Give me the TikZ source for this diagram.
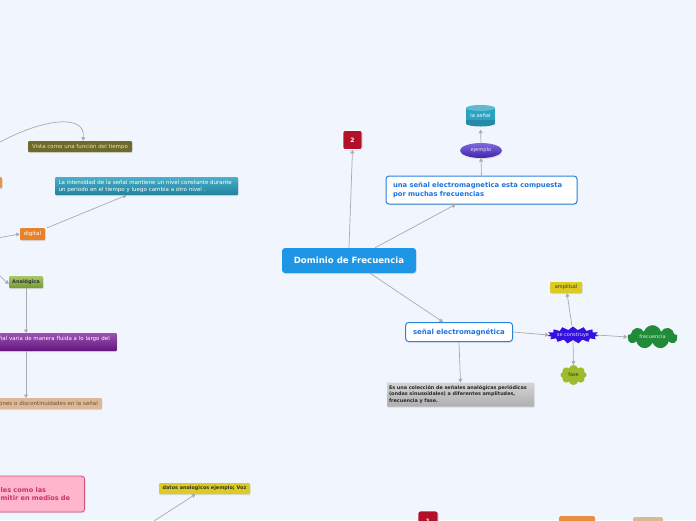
\documentclass[tikz,border=0pt]{standalone}
\usepackage{fontspec}
\setmainfont{DejaVu Sans}
\usetikzlibrary{shapes.symbols,shapes.geometric,arrows.meta,shadows}
\hyphenpenalty=10000
\exhyphenpenalty=10000
\definecolor{bg}{HTML}{F1F5FE}
\definecolor{linec}{HTML}{ABABAB}
\definecolor{centralc}{HTML}{1E96E6}
\definecolor{redc}{HTML}{B3102A}
\definecolor{bluebd}{HTML}{2A84DE}
\definecolor{bluetx}{HTML}{1A73E0}
\definecolor{purpc}{HTML}{4A2ACB}
\definecolor{tealc}{HTML}{2AA2C2}
\definecolor{starc}{HTML}{3510E0}
\definecolor{yellowc}{HTML}{DCCB22}
\definecolor{greenc}{HTML}{228B3A}
\definecolor{fasec}{HTML}{9DBB2A}
\definecolor{olivec}{HTML}{6E6A2A}
\definecolor{olivetx}{HTML}{E8E4B0}
\definecolor{orangec}{HTML}{E8822A}
\definecolor{anac}{HTML}{8CB43A}
\definecolor{violc}{HTML}{7A1A9A}
\definecolor{tanc}{HTML}{DDB898}
\definecolor{tantx}{HTML}{6B5030}
\definecolor{pinkc}{HTML}{FFB5CC}
\definecolor{pinkbd}{HTML}{D0557A}
\definecolor{pinktx}{HTML}{C8346A}
\definecolor{grayc}{HTML}{B8B8B8}
\tikzset{
  box/.style={rectangle, rounded corners=2pt, inner sep=0pt, align=center,
    font=\fontsize{5.5}{6.8}\selectfont},
  shd/.style={drop shadow={opacity=0.22,shadow xshift=0.5pt,shadow yshift=-1pt}},
  conn/.style={draw=linec, line width=0.7pt, -{Triangle[width=4pt,length=3.5pt]}},
}
\begin{document}
\begin{tikzpicture}[x=1pt,y=-1pt]
\useasboundingbox (0,0) rectangle (696,520);
\clip (0,0) rectangle (696,520);
\fill[bg] (0,0) rectangle (696,520);

% ---------- right part ----------
\node[box, shd, fill=centralc, minimum width=134pt, minimum height=25pt, rounded corners=3pt,
  text=white, font=\bfseries\fontsize{8.6}{10}\selectfont] (central) at (349,260.5) {Dominio de Frecuencia};
\node[box, shd, fill=redc, draw=white, line width=0.8pt, minimum width=19pt, minimum height=19pt,
  text=white, font=\bfseries\fontsize{6}{7}\selectfont] (two) at (352.5,140) {2};
\node[box, shd, fill=white, draw=bluebd, line width=1pt, rounded corners=3pt, text width=177pt,
  inner xsep=7pt, minimum height=28pt, align=left, text=bluetx,
  font=\bfseries\fontsize{6.8}{9}\selectfont] (big) at (481.5,190)
  {una señal electromagnetica esta compuesta por muchas frecuencias};
\node[ellipse, shd, inner sep=0pt, minimum width=42pt, minimum height=15pt,
  top color=purpc!70!white, bottom color=purpc!85!black, text=white!85!purpc,
  font=\fontsize{5.2}{6}\selectfont] (ejemplo) at (481,150.5) {ejemplo};
% cylinder "la señal"
\fill[tealc!85!black] (466,108) rectangle (495,123.5);
\fill[tealc!85!black] (480.5,123.5) ellipse [x radius=14.5pt, y radius=3pt];
\fill[tealc] (466,108) rectangle (495,120);
\fill[tealc!75!white] (480.5,108) ellipse [x radius=14.5pt, y radius=3pt];
\node[inner sep=0pt, minimum width=29pt, minimum height=21pt, text=white,
  font=\fontsize{5.2}{6}\selectfont] (lasenal) at (480.5,116) {la señal};

\node[box, shd, fill=white, draw=bluebd, line width=1pt, rounded corners=3pt, minimum width=107pt,
  minimum height=19pt, text=bluetx, font=\bfseries\fontsize{6.95}{8}\selectfont] (senal) at (459,332)
  {señal electromagnética};
\node[box, shd, top color=grayc!60!white, bottom color=grayc!95!black, rounded corners=0.5pt,
  text width=143pt, inner xsep=2pt, minimum height=24pt, align=left, text=black!85,
  font=\bfseries\fontsize{4.9}{6.6}\selectfont] (gray) at (460.5,394.5)
  {Es una colección de señales analógicas periódicas (ondas sinusoidales) a diferentes amplitudes, frecuencia y fase.};
\node[starburst, starburst points=15, starburst point height=3.5pt, random starburst=0,
  fill=starc, inner sep=0pt, minimum width=51pt, minimum height=17pt, text=white!85!starc,
  font=\fontsize{5}{6}\selectfont] (construye) at (573,335) {se construye};
\node[box, shd, fill=yellowc, rounded corners=1pt, minimum width=32pt, minimum height=11pt,
  text=black!80, font=\fontsize{5}{6}\selectfont] (amplitud) at (566,287.5) {amplitud};
\node[cloud, cloud puffs=9, aspect=2.5, fill=greenc, inner sep=0pt, minimum width=50pt,
  minimum height=20pt, text=white!85!greenc, font=\fontsize{5}{6}\selectfont] (frecuencia) at (652.5,337) {frecuencia};
\node[cloud, cloud puffs=8, aspect=1.2, fill=fasec, inner sep=0pt, minimum width=26pt,
  minimum height=20pt, text=black!80, font=\fontsize{5}{6}\selectfont] (fase) at (573.5,375) {fase};

% ---------- left part ----------
\node[box, shd, fill=olivec, rounded corners=1pt, minimum width=104pt, minimum height=11pt,
  text=olivetx] (vista) at (80,146.5) {Vista como una función del tiempo};
\node[box, shd, fill=orangec!70!tanc, rounded corners=1pt, minimum width=14pt, minimum height=11pt]
  (orleft) at (-5,182.5) {};
\node[box, shd, top color=tealc!85!white, bottom color=tealc!80!black, rounded corners=1pt,
  text width=176pt, inner xsep=3.5pt, minimum height=18pt, align=left, text=white,
  font=\fontsize{5.5}{7}\selectfont] (teal) at (146.5,186)
  {La intensidad de la señal mantiene un nivel constante durante un periodo en el tiempo y luego cambia a otro nivel .};
\node[box, shd, fill=orangec, rounded corners=1pt, minimum width=25pt, minimum height=12pt,
  text=white] (digital) at (32.5,234) {digital};
\node[box, shd, top color=anac!75!white, bottom color=anac!85!black, rounded corners=1pt,
  minimum width=34pt, minimum height=12pt, text=black!80,
  font=\bfseries\fontsize{5}{6}\selectfont] (analog) at (26,282) {Analógica};
\node[box, shd, top color=violc!75!white, bottom color=violc!80!black, rounded corners=1pt,
  text width=220pt, inner xsep=7pt, minimum height=18pt, align=right, anchor=east, text=white]
  (fluida) at (117,342) {ñal varia de manera fluida a lo largo del\\[1pt]\mbox{}};
\node[box, shd, fill=tanc, rounded corners=1pt, text width=200pt, inner xsep=4pt,
  minimum height=11pt, align=right, anchor=east, text=tantx] (discont) at (102,403.5)
  {ones o discontinuidades en la señal};
\node[box, shd, fill=pinkc, draw=pinkbd, line width=0.8pt, rounded corners=3pt, text width=76pt,
  inner xsep=8pt, minimum height=36pt, align=left, anchor=east, text=pinktx,
  font=\bfseries\fontsize{6.6}{8}\selectfont] (pink) at (85,494)
  {les como las\\mitir en medios de};
\node[box, shd, fill=yellowc, rounded corners=1pt, minimum width=91pt, minimum height=11pt,
  text=black!80, font=\bfseries\fontsize{4.9}{6}\selectfont] (datos) at (204.5,488.5)
  {datos analogicos ejemplo; Voz};

% ---------- bottom partial nodes ----------
\node[box, shd, fill=redc, draw=white, line width=0.8pt, minimum width=20pt, minimum height=20pt,
  text=white, font=\bfseries\fontsize{6}{7}\selectfont] (one) at (428,521) {1};
\node[box, fill=orangec!90!white, rounded corners=1.5pt, minimum width=36pt, minimum height=14pt]
  (orbottom) at (577,523) {};
\node[box, fill=tanc, rounded corners=1.5pt, minimum width=30pt, minimum height=14pt]
  (tanbottom) at (648,524) {};

% ---------- free ends ----------
\coordinate (c1) at (0,142);
\coordinate (c2) at (0,237.5);
\coordinate (c3) at (0,276);
\coordinate (c4) at (154,521);

% ---------- connectors ----------
\draw[conn] (central.north) -- (two.south);
\draw[conn] ([xshift=26pt]central.north) -- ([xshift=-26pt]big.south);
\draw[conn] (big.north) -- (ejemplo.south);
\draw[conn] (ejemplo.north) -- ([yshift=-3pt]lasenal.south);
\draw[conn] ([xshift=21pt]central.south) -- ([xshift=-16pt]senal.north);
\draw[conn] (senal.south) -- (gray.north);
\draw[conn] (senal.east) -- (construye.west);
\draw[conn] ([xshift=-1pt]construye.north) -- ([xshift=1pt]amplitud.south);
\draw[conn] (construye.east) -- (frecuencia.west);
\draw[conn] (construye.south) -- (fase.north);

\draw[conn] (c1) .. controls (45,118) and (86,114) .. ([xshift=3pt]vista.north);
\draw[conn] (c2) -- (digital.west);
\draw[conn] ([xshift=2pt]digital.north east) -- ([xshift=-20pt]teal.south);
\draw[conn] (c3) -- ([yshift=-2pt]analog.west);
\draw[conn] (analog.south) -- (26,333);
\draw[conn] (26,351) -- (26,398);
\draw[conn] (c4) -- ([xshift=-9pt]datos.south);
\end{tikzpicture}
\end{document}
